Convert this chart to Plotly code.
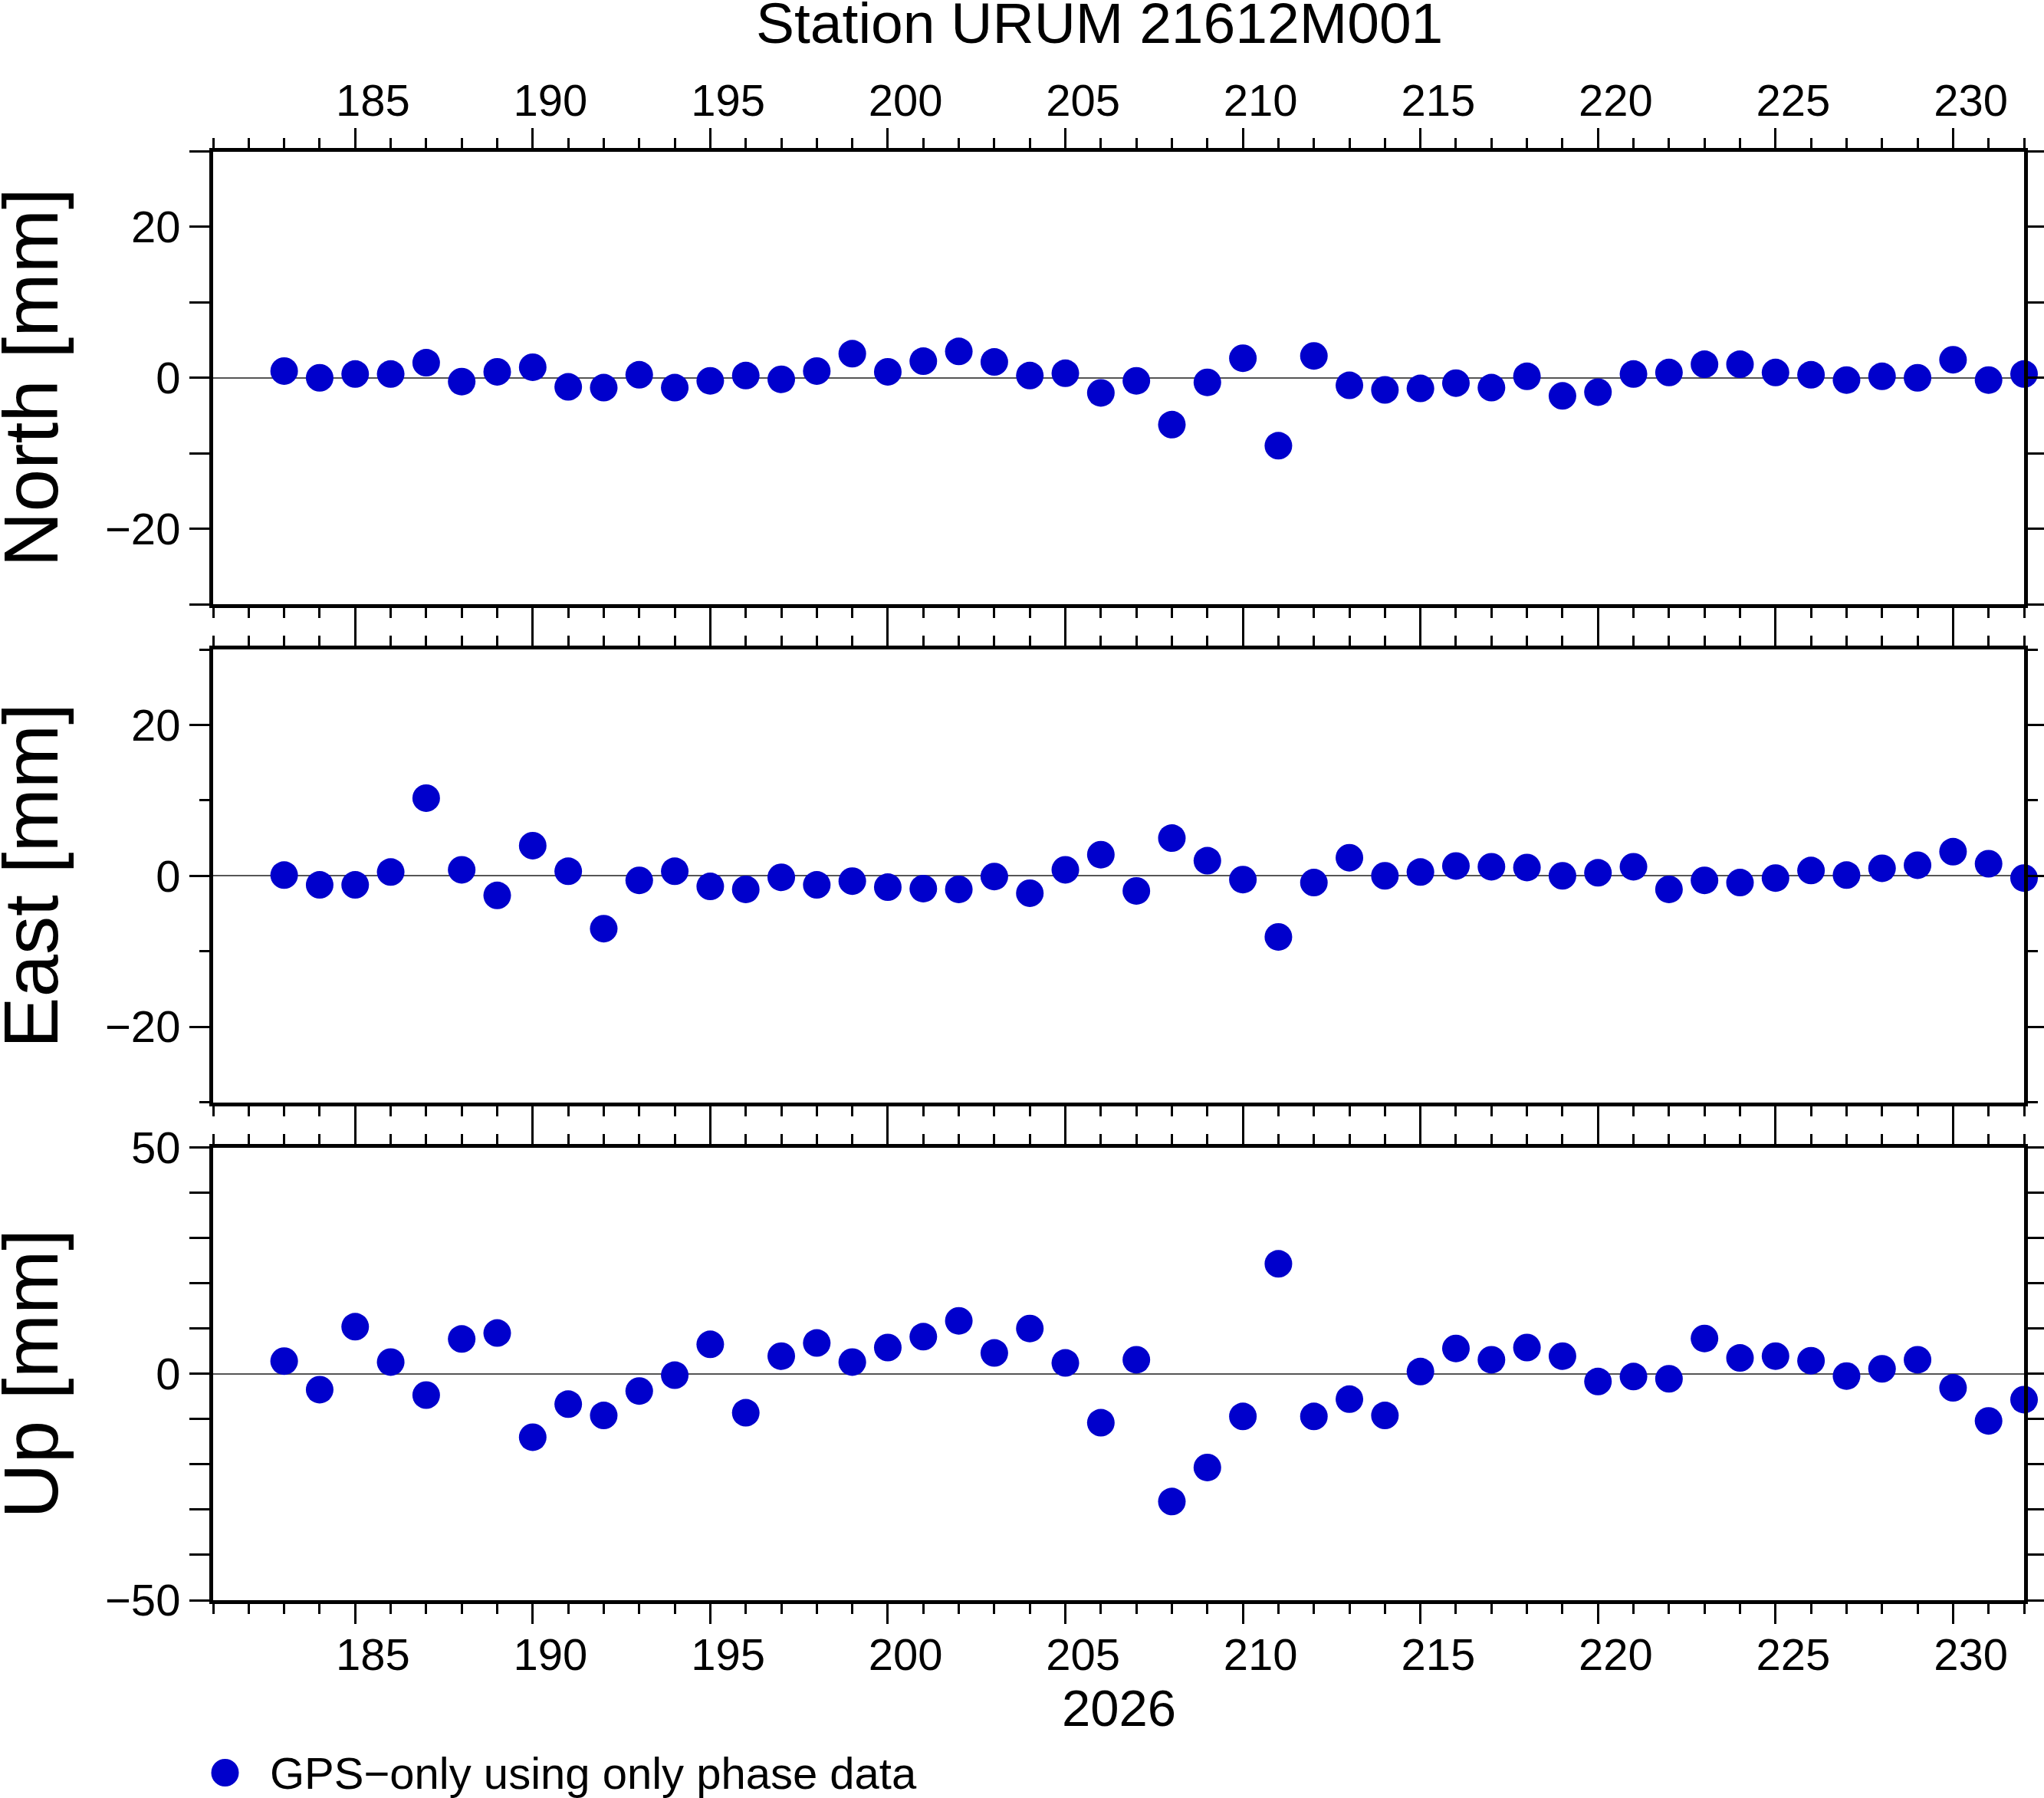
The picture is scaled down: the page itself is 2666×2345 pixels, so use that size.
import plotly.graph_objects as go

days = [183, 184, 185, 186, 187, 188, 189, 190, 191, 192,
        193, 194, 195, 196, 197, 198, 199, 200, 201, 202,
        203, 204, 205, 206, 207, 208, 209, 210, 211, 212,
        213, 214, 215, 216, 217, 218, 219, 220, 221, 222,
        223, 224, 225, 226, 227, 228, 229, 230, 231, 232]

north = [0.9, 0.0, 0.5, 0.5, 2.0, -0.5, 0.8, 1.4, -1.2, -1.3,
         0.4, -1.3, -0.4, 0.3, -0.2, 0.9, 3.2, 0.8, 2.2, 3.5,
         2.1, 0.3, 0.6, -2.0, -0.4, -6.2, -0.6, 2.6, -9.0, 2.9,
         -1.0, -1.6, -1.4, -0.7, -1.3, 0.2, -2.4, -1.9, 0.5, 0.7,
         1.8, 1.8, 0.7, 0.4, -0.3, 0.2, 0.0, 2.4, -0.3, 0.5]

east = [0.1, -1.2, -1.2, 0.5, 10.3, 0.8, -2.6, 4.0, 0.6, -7.0,
        -0.6, 0.6, -1.4, -1.8, -0.2, -1.2, -0.7, -1.5, -1.7, -1.8,
        -0.1, -2.3, 0.8, 2.8, -2.0, 5.0, 2.0, -0.5, -8.1, -0.9,
        2.4, 0.0, 0.5, 1.3, 1.2, 1.1, 0.0, 0.4, 1.2, -1.8,
        -0.6, -0.9, -0.3, 0.7, 0.1, 1.0, 1.4, 3.2, 1.6, -0.3]

up = [2.8, -3.5, 10.4, 2.6, -4.7, 7.7, 9.0, -14.0, -6.7, -9.2,
      -3.8, -0.3, 6.5, -8.6, 3.9, 6.8, 2.6, 5.8, 8.2, 11.7,
      4.6, 10.0, 2.4, -10.8, 3.1, -28.2, -20.7, -9.4, 24.3, -9.4,
      -5.6, -9.2, 0.5, 5.6, 3.1, 5.8, 3.9, -1.7, -0.6, -1.1,
      7.8, 3.5, 3.9, 2.9, -0.5, 1.1, 3.1, -3.1, -10.4, -5.7]

# day-of-year annotations (GMT centres them on the day interval)
x_tick_days = [185, 190, 195, 200, 205, 210, 215, 220, 225, 230]
x_tick_text = ["185", "190", "195", "200", "205", "210", "215", "220", "225", "230"]

panel_labels = ["North [mm]", "East [mm]", "Up [mm]"]
title_text = "Station URUM 21612M001"
year_label = "2026"
legend_label = "GPS\u2212only using only phase data"

W, H = 2666, 2345
FONT = "Liberation Sans"
BLUE = "rgb(0,0,204)"
X_RANGE = [181, 232]

# pixel layout
x0_px, x1_px = 278, 2640
panels_px = [(197.5, 788), (847, 1437.5), (1496.5, 2087)]

def px_x(v):
    return v / W

def px_y(v):
    return 1 - v / H

fig = go.Figure()
series = [north, east, up]
for i, vals in enumerate(series):
    fig.add_trace(go.Scatter(
        x=days, y=vals, mode="markers",
        marker=dict(size=36, color=BLUE, line=dict(width=0)),
        cliponaxis=False,
        name=legend_label,
        showlegend=False,
        xaxis="x" if i == 0 else f"x{i+1}",
        yaxis="y" if i == 0 else f"y{i+1}",
        hoverinfo="skip",
    ))

# empty traces so that the label-only axes get drawn
for xa_id, ya_id in [("x4", "y"), ("x5", "y3")]:
    fig.add_trace(go.Scatter(x=[], y=[], mode="markers", showlegend=False,
                             hoverinfo="skip", xaxis=xa_id, yaxis=ya_id))

tickfont = dict(family=FONT, size=58, color="black")

common_x = dict(
    range=X_RANGE, tick0=185, dtick=5, ticks="outside", ticklen=26,
    tickwidth=3, tickcolor="black", showline=True, linewidth=5,
    linecolor="black", mirror="allticks", showgrid=False, zeroline=False,
    showticklabels=False,
    minor=dict(dtick=1, tick0=181, ticks="outside", ticklen=13,
               tickwidth=3, tickcolor="black", showgrid=False),
    domain=[px_x(x0_px), px_x(x1_px)], fixedrange=True, automargin=False,
)

layout = dict(
    width=W, height=H, autosize=False,
    margin=dict(l=0, r=0, t=0, b=0, pad=0),
    paper_bgcolor="white", plot_bgcolor="white",
    font=dict(family=FONT, color="black"),
    showlegend=False,
)

for i in range(3):
    top, bot = panels_px[i]
    xa = dict(common_x)
    xname = "xaxis" if i == 0 else f"xaxis{i+1}"
    yname = "yaxis" if i == 0 else f"yaxis{i+1}"
    yref = "y" if i == 0 else f"y{i+1}"
    xa["anchor"] = yref
    xa["side"] = "top" if i == 0 else "bottom"
    layout[xname] = xa

    if i < 2:
        yr, ydt = [-30, 30], 20
    else:
        yr, ydt = [-50, 50], 50
    layout[yname] = dict(
        range=yr, tick0=0, dtick=ydt, ticks="outside", ticklen=26,
        tickwidth=3, tickcolor="black", showline=True, linewidth=5,
        linecolor="black", mirror="allticks", showgrid=False,
        zeroline=True, zerolinecolor="#555555", zerolinewidth=1.5,
        tickfont=tickfont,
        minor=dict(dtick=10, tick0=0, ticks="outside", ticklen=13,
                   tickwidth=3, tickcolor="black", showgrid=False),
        domain=[px_y(bot), px_y(top)], anchor="x" if i == 0 else f"x{i+1}",
        fixedrange=True, automargin=False,
    )

# label-only axes: annotations placed in the middle of each day interval
label_vals = [d + 0.5 for d in x_tick_days]
label_axis = dict(
    range=X_RANGE, tickmode="array", tickvals=label_vals, ticktext=x_tick_text,
    ticks="outside", ticklen=26, tickwidth=1, tickcolor="rgba(0,0,0,0)",
    showline=False, showgrid=False, zeroline=False, showticklabels=True,
    tickfont=tickfont, domain=[px_x(x0_px), px_x(x1_px)],
    fixedrange=True, automargin=False,
)
layout["xaxis4"] = dict(label_axis, overlaying="x", anchor="y", side="top",
                        ticklabelstandoff=-4)
layout["xaxis5"] = dict(label_axis, overlaying="x3", anchor="y3", side="bottom",
                        ticklabelstandoff=-6)

annotations = []
for i, lab in enumerate(panel_labels):
    top, bot = panels_px[i]
    annotations.append(dict(
        text=lab, xref="paper", yref="paper",
        x=px_x(40), y=px_y((top + bot) / 2),
        xanchor="center", yanchor="middle", textangle=-90,
        showarrow=False, font=dict(family=FONT, size=100, color="black"),
    ))
annotations.append(dict(
    text=title_text, xref="paper", yref="paper",
    x=px_x(1434), y=px_y(30), xanchor="center", yanchor="middle",
    showarrow=False, font=dict(family=FONT, size=75, color="black"),
))
annotations.append(dict(
    text=year_label, xref="paper", yref="paper",
    x=px_x(1459), y=px_y(2227), xanchor="center", yanchor="middle",
    showarrow=False, font=dict(family=FONT, size=67, color="black"),
))
# legend entry text
annotations.append(dict(
    text=legend_label, xref="paper", yref="paper",
    x=px_x(350), y=px_y(2312), xanchor="left", yanchor="middle",
    showarrow=False, font=dict(family=FONT, size=58, color="black"),
))
layout["annotations"] = annotations

# legend symbol (same style as data markers)
layout["shapes"] = [dict(
    type="circle", xref="paper", yref="paper",
    x0=px_x(293.5 - 18), x1=px_x(293.5 + 18),
    y0=px_y(2312 + 18), y1=px_y(2312 - 18),
    fillcolor=BLUE, line=dict(width=0),
)]

fig.update_layout(**layout)
fig.write_html(
    "out.html",
    config={"displayModeBar": False},
    post_script="document.body.style.margin='0px';document.body.style.overflow='hidden';",
)
